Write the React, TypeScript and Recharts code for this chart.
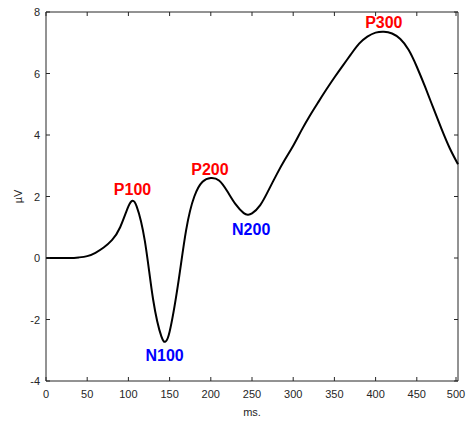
import { LineChart, Line, XAxis, YAxis, ReferenceDot, ReferenceLine } from 'recharts'

const TIMES = [
  0, 10, 20, 30, 40, 50, 60, 70, 80, 90, 100, 105, 110, 120, 130, 140, 145, 150, 160, 170,
  180, 190, 200, 210, 220, 230, 240, 245, 250, 260, 270, 280, 290, 300, 310, 320, 330, 340,
  350, 360, 370, 380, 390, 400, 410, 420, 430, 440, 450, 460, 470, 480, 490, 500,
]
const VOLTS = [
  0, 0, 0, 0, 0.02, 0.06, 0.17, 0.34, 0.58, 1.0, 1.68, 1.86, 1.68, 0.55, -1.35, -2.55, -2.72,
  -2.4, -0.9, 0.9, 2.0, 2.48, 2.6, 2.52, 2.17, 1.75, 1.46, 1.41, 1.45, 1.72, 2.2, 2.72, 3.2,
  3.65, 4.15, 4.62, 5.05, 5.47, 5.87, 6.25, 6.62, 6.97, 7.2, 7.33, 7.36, 7.3, 7.12, 6.77, 6.22,
  5.57, 4.88, 4.2, 3.57, 3.05,
]
const X_TICKS = [0, 50, 100, 150, 200, 250, 300, 350, 400, 450, 500]
const Y_TICKS = [-4, -2, 0, 2, 4, 6, 8]

const PEAK_NAMES = ['P100', 'N100', 'P200', 'N200', 'P300']
const PEAK_X = [105, 144, 199, 249, 410]
const PEAK_Y = [2.22, -3.15, 2.9, 0.94, 7.67]
const PEAK_COLORS = ['#ff0000', '#0000ff', '#ff0000', '#0000ff', '#ff0000']

const data = TIMES.map((t, i) => ({ t, v: VOLTS[i] }))

const AXIS = '#262626'
const FONT = '"Liberation Sans", Arial, sans-serif'
// plot box edges (px), for the inward ticks on the top and right sides
const PLOT_TOP = 12
const PLOT_RIGHT = 458
const TICK_LEN = 4

function BottomTick({ x, y, payload }: any) {
  return (
    <g>
      <line x1={x} y1={y} x2={x} y2={y - TICK_LEN} stroke={AXIS} />
      <line x1={x} y1={PLOT_TOP} x2={x} y2={PLOT_TOP + TICK_LEN} stroke={AXIS} />
      <text x={x} y={y + 17} textAnchor="middle" fontSize={11} fill={AXIS} fontFamily={FONT}>
        {payload.value}
      </text>
    </g>
  )
}

function LeftTick({ x, y, payload }: any) {
  return (
    <g>
      <line x1={x} y1={y} x2={x + TICK_LEN} y2={y} stroke={AXIS} />
      <line x1={PLOT_RIGHT} y1={y} x2={PLOT_RIGHT - TICK_LEN} y2={y} stroke={AXIS} />
      <text x={x - 6} y={y + 4} textAnchor="end" fontSize={11} fill={AXIS} fontFamily={FONT}>
        {payload.value}
      </text>
    </g>
  )
}

function YLabel({ viewBox }: any) {
  const cx = 18
  const cy = viewBox.y + viewBox.height / 2
  return (
    <text
      x={cx}
      y={cy}
      transform={`rotate(-90, ${cx}, ${cy})`}
      textAnchor="middle"
      dominantBaseline="central"
      fontSize={11}
      fill={AXIS}
      fontFamily={FONT}
    >
      µV
    </text>
  )
}

export default function App() {
  return (
    <div style={{ position: 'absolute', left: 0, top: 0, background: '#fff' }}>
      <LineChart width={468} height={421} data={data} margin={{ top: PLOT_TOP, right: 10, left: 0, bottom: 0 }}>
        <XAxis
          dataKey="t"
          type="number"
          domain={[0, 500]}
          ticks={X_TICKS}
          height={40}
          tick={<BottomTick />}
          tickLine={false}
          tickSize={0}
          tickMargin={0}
          stroke={AXIS}
          label={{ value: 'ms.', position: 'insideBottom', offset: 5, fontSize: 11, fill: AXIS, fontFamily: FONT }}
        />
        <YAxis
          type="number"
          domain={[-4, 8]}
          ticks={Y_TICKS}
          width={46}
          tick={<LeftTick />}
          tickLine={false}
          tickSize={0}
          tickMargin={0}
          stroke={AXIS}
          label={{ content: YLabel }}
        />
        <ReferenceLine y={8} stroke={AXIS} ifOverflow="visible" />
        <ReferenceLine x={500} stroke={AXIS} ifOverflow="visible" />
        <Line
          type="natural"
          dataKey="v"
          stroke="#000"
          strokeWidth={2}
          dot={false}
          isAnimationActive={false}
        />
        {PEAK_NAMES.map((name, i) => (
          <ReferenceDot
            key={name}
            x={PEAK_X[i]}
            y={PEAK_Y[i]}
            r={0}
            fill="none"
            stroke="none"
            label={{
              value: name,
              position: 'center',
              fill: PEAK_COLORS[i],
              fontSize: 16,
              fontWeight: 'bold',
              fontFamily: FONT,
            }}
          />
        ))}
      </LineChart>
    </div>
  )
}
